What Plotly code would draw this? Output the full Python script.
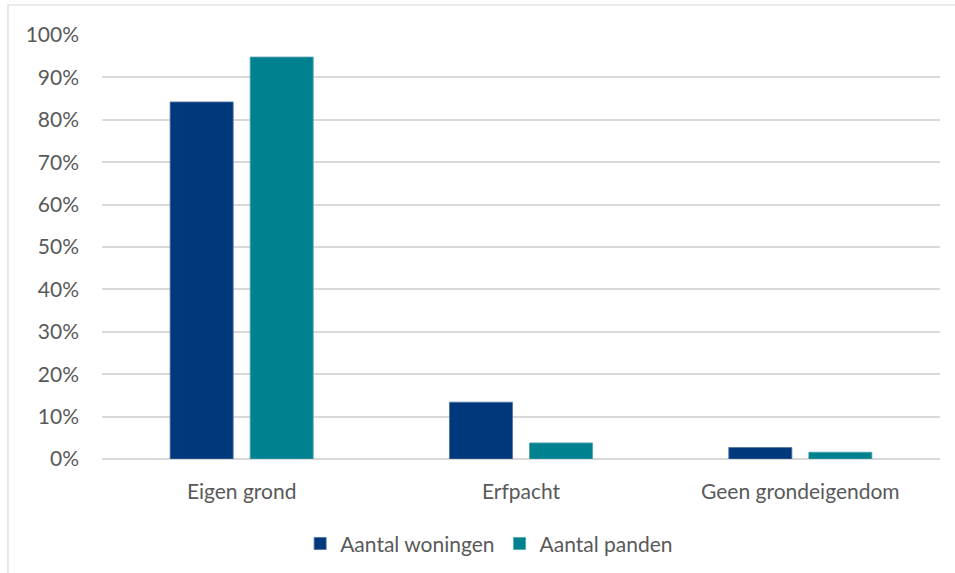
import plotly.graph_objects as go

categories = ["Eigen grond", "Erfpacht", "Geen grondeigendom"]
woningen = [84.2, 13.4, 2.7]
panden = [94.8, 3.8, 1.6]
y_ticks = list(range(0, 101, 10))
y_tick_labels = [f"{v}%" for v in y_ticks]

NAVY = "#00397B"
TEAL = "#008190"
GRID = "#D9D9D9"
TEXT = "#595959"
FONT = "Lato, 'Open Sans', sans-serif"

fig = go.Figure()
fig.add_trace(go.Bar(name="Aantal woningen", x=categories, y=woningen,
                     marker=dict(color=NAVY, line=dict(color="#4F6FA0", width=0.8))))
fig.add_trace(go.Bar(name="Aantal panden", x=categories, y=panden,
                     marker=dict(color=TEAL, line=dict(color="#4FA3AD", width=0.8))))

# outer chart frame
fig.add_shape(type="rect", xref="paper", yref="paper",
              x0=-0.1122, x1=1.2, y0=-0.5, y1=1.0708,
              line=dict(color=GRID, width=1.2), fillcolor="rgba(0,0,0,0)", layer="below")

fig.update_layout(
    width=955, height=573,
    margin=dict(l=102, r=15, t=35, b=114, autoexpand=False),
    paper_bgcolor="white", plot_bgcolor="white",
    barmode="group", bargap=0.427, bargroupgap=0.2125,
    font=dict(family=FONT, size=21, color=TEXT),
    showlegend=True,
    legend=dict(orientation="h", x=0.462, xanchor="center", y=-0.2, yanchor="middle",
                font=dict(size=21, color=TEXT), itemwidth=30, tracegroupgap=0),
    xaxis=dict(showgrid=False, showline=False, ticks="", ticklabelstandoff=18,
               automargin=False, tickfont=dict(size=21, color=TEXT)),
    yaxis=dict(range=[0, 100], tickvals=y_ticks, ticktext=y_tick_labels,
               showgrid=True, gridcolor=GRID, gridwidth=1.5,
               zeroline=True, zerolinecolor=GRID, zerolinewidth=1.5,
               showline=False, ticks="", ticklabelstandoff=22,
               automargin=False, tickfont=dict(size=21, color=TEXT)),
)

fig.write_html("out.html")
